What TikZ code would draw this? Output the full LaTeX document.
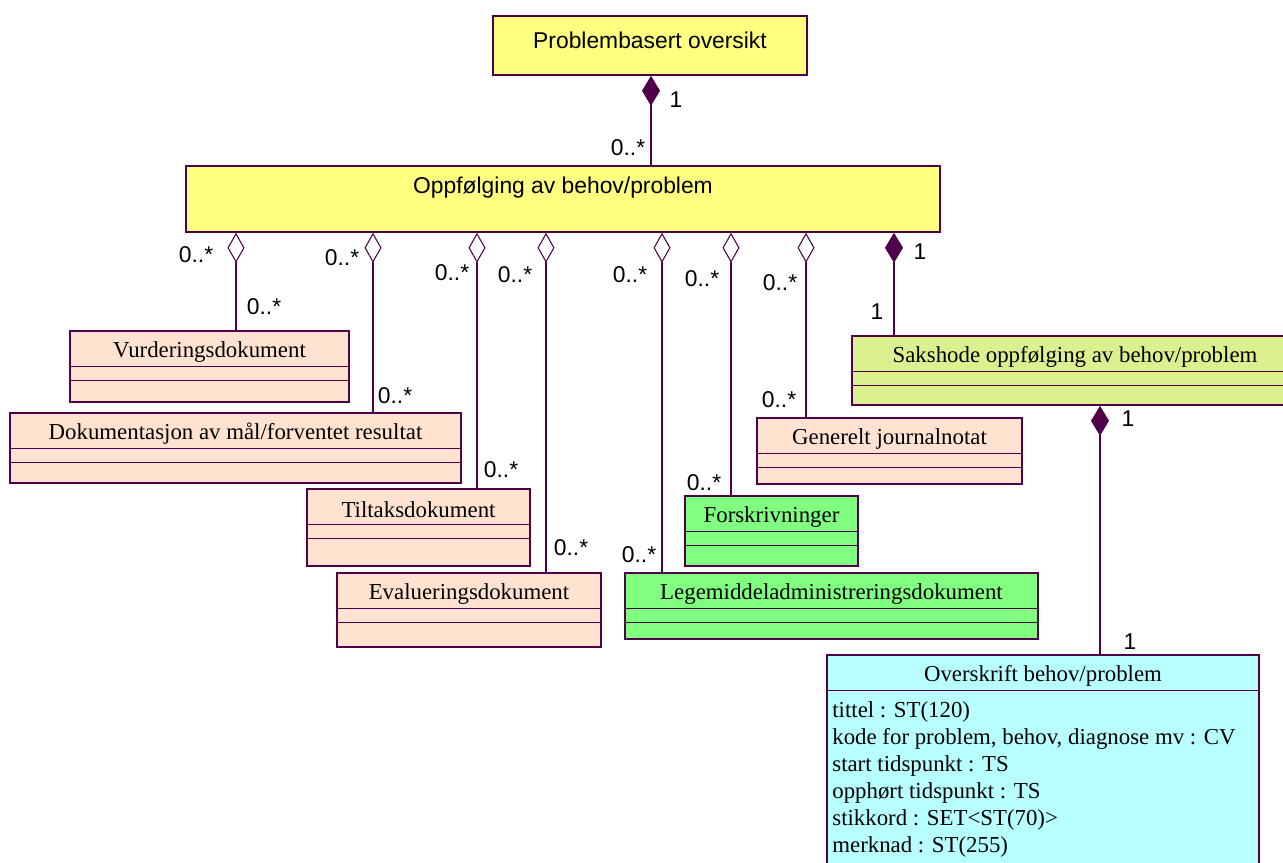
\documentclass[tikz,border=0pt]{standalone}
\usepackage{fontspec}
\setmainfont{Liberation Serif}
\newfontfamily\labelfont{Liberation Sans}
\usetikzlibrary{arrows.meta,calc,fit}

\definecolor{umlline}{RGB}{80,0,72}
\definecolor{headyellow}{RGB}{255,255,128}
\definecolor{docpeach}{RGB}{255,226,208}
\definecolor{medgreen}{RGB}{128,255,128}
\definecolor{caselime}{RGB}{220,240,144}
\definecolor{titlecyan}{RGB}{184,255,255}

\tikzset{
  classbox/.style={draw=umlline, line width=0.9pt, inner sep=0pt},
  classname/.style={font=\fontsize{13}{15}\selectfont},
  headname/.style={font=\labelfont\fontsize{13}{15}\selectfont},
  mult/.style={font=\labelfont\fontsize{13}{15}\selectfont, inner sep=0pt},
  aggr/.style={draw=umlline, line width=0.6pt, {Diamond[length=0.6cm, width=0.34cm, fill=white]}-},
  comp/.style={draw=umlline, line width=0.6pt, {Diamond[length=0.6cm, width=0.36cm, fill=umlline]}-},
}

% klasse med tre felt: id, x1, y1, x2, y2, farge, navn
\newcommand{\umlclass}[7]{%
  \node[classbox, fill=#6, fit={(#2,#3) (#4,#5)}] (#1) {};
  \node[classname] (#1-name) at ($(#1.north)+(0,21.5)$) {#7};
  \draw[umlline, line width=0.6pt] ($(#1.north west)+(0,36)$) -- ($(#1.north east)+(0,36)$);
  \draw[umlline, line width=0.6pt] ($(#1.north west)+(0,50)$) -- ($(#1.north east)+(0,50)$);
}

\begin{document}
\begin{tikzpicture}[x=0.02cm, y=-0.02cm]
  \useasboundingbox (0,0) rectangle (1283,862);
  \clip (0,0) rectangle (1283,862);

  % --- Oversikt og oppfoelging ---
  \node[classbox, fill=headyellow, fit={(493,16) (807,75)}] (prob) {};
  \node[headname] (prob-name) at (650,40) {Problembasert oversikt};
  \node[classbox, fill=headyellow, fit={(186,166) (940,232)}] (oppf) {};
  \node[headname] (oppf-name) at (563,188) {Oppfølging av behov/problem};

  % --- Dokumenter ---
  \umlclass{vurd}{70}{331}{349}{402}{docpeach}{Vurderingsdokument}
  \umlclass{dok}{10}{413}{461}{483}{docpeach}{Dokumentasjon av mål/forventet resultat}
  \umlclass{tilt}{307}{489}{530}{566}{docpeach}{Tiltaksdokument}
  \umlclass{eval}{337}{573}{601}{647}{docpeach}{Evalueringsdokument}
  \umlclass{journ}{757}{418}{1022}{484}{docpeach}{Generelt journalnotat}
  \umlclass{forsk}{685}{496}{858}{566}{medgreen}{Forskrivninger}
  \umlclass{lege}{625}{573}{1038}{639}{medgreen}{Legemiddeladministreringsdokument}
  \umlclass{saks}{852}{336}{1298}{405}{caselime}{Sakshode oppfølging av behov/problem}

  % --- Overskrift ---
  \node[classbox, fill=titlecyan, fit={(827,655) (1259,900)}] (over) {};
  \node[classname] (over-name) at ($(over.north)+(0,22)$) {Overskrift behov/problem};
  \draw[umlline, line width=0.6pt] ($(over.north west)+(0,36)$) -- ($(over.north east)+(0,36)$);
  \node[font=\fontsize{13}{15.4}\selectfont, anchor=north west, align=left, inner sep=0pt]
    (over-attr) at (832,701) {tittel : ST(120)\\
    kode for problem, behov, diagnose mv : CV\\
    start tidspunkt : TS\\
    opphørt tidspunkt : TS\\
    stikkord : SET<ST(70)>\\
    merknad : ST(255)};

  % --- Komposisjoner ---
  \draw[comp] (651,0 |- prob.south) -- (651,0 |- oppf.north);
  \node[mult] (m-prob) at (676,100) {1};
  \node[mult] (m-oppf) at (628,148) {0..*};

  \draw[comp] (894,0 |- oppf.south) -- (894,0 |- saks.north);
  \node[mult] (m-oppf-saks) at (920,252) {1};
  \node[mult] (m-saks) at (877,312) {1};

  \draw[comp] (1100,0 |- saks.south) -- (1100,0 |- over.north);
  \node[mult] (m-saks-over) at (1128,419) {1};
  \node[mult] (m-over) at (1130,642) {1};

  % --- Aggregeringer ---
  \foreach \px/\target/\ax/\ay/\bx/\by in {
      236/vurd/196/255/264/307,
      373/dok/342/258/395/396,
      477/tilt/452/273/501/470,
      546/eval/515/275/571/548,
      662/lege/630/275/639/555,
      731/forsk/702/279/704/483,
      806/journ/780/283/779/400}{
    \draw[aggr] (\px,0 |- oppf.south) -- (\px,0 |- \target.north);
    \node[mult] (m-\target-a) at (\ax,\ay) {0..*};
    \node[mult] (m-\target-b) at (\bx,\by) {0..*};
  }

\end{tikzpicture}
\end{document}
